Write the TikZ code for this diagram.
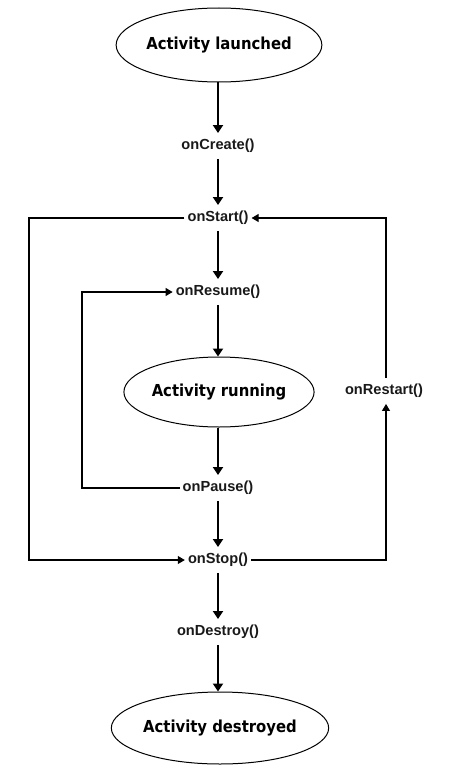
\documentclass[tikz,border=0pt]{standalone}
\usepackage{fontspec}
\setmainfont{Liberation Sans}
\newfontfamily\handfont{DejaVu Sans Condensed}
\usetikzlibrary{arrows.meta,shapes.geometric}
\tikzset{
  lbl/.style={font=\bfseries\fontsize{14.6}{16}\selectfont, text=black!90, inner xsep=3pt, inner ysep=6pt, text height=10.5pt, text depth=3pt},
  state/.style={draw, ellipse, line width=1pt, inner sep=0pt, font=\handfont\bfseries\fontsize{16.5}{19}\selectfont},
  flow/.style={line width=1.8pt, -{Triangle[width=10pt,length=8pt]}},
  loopline/.style={line width=1.1pt, -{Triangle[width=8pt,length=7pt]}}
}
\begin{document}
\begin{tikzpicture}[x=1pt,y=-1pt]
\useasboundingbox (0,0) rectangle (454,781);
\node[state, minimum width=180pt, minimum height=74pt] (launched) at (219,45) {Activity launched};
\node[lbl] (create) at (218,146) {onCreate()};
\node[lbl] (start) at (218,218) {onStart()};
\node[lbl] (resume) at (218,292) {onResume()};
\node[state, minimum width=178pt, minimum height=70pt] (running) at (219,392) {Activity running};
\node[lbl] (restart) at (384,391) {onRestart()};
\node[lbl] (pause) at (218,488) {onPause()};
\node[lbl] (stop) at (218,560) {onStop()};
\node[lbl] (destroy) at (218,632) {onDestroy()};
\node[state, minimum width=176pt, minimum height=72pt] (destroyed) at (220,728) {Activity destroyed};
\coordinate (lt) at (29,218);
\coordinate (lb) at (29,560);
\coordinate (pl) at (82,488);
\coordinate (pt) at (82,292);
\coordinate (rb) at (386,560);
\coordinate (rt) at (386,218);

\draw[flow] (launched.south -| create) -- (create.north);
\draw[flow] (create) -- (start);
\draw[flow] (start) -- (resume);
\draw[flow] (resume.south) -- (running.north -| resume);
\draw[flow] (running.south -| pause) -- (pause.north);
\draw[flow] (pause) -- (stop);
\draw[flow] (stop) -- (destroy);
\draw[flow] (destroy.south) -- (destroyed.north -| destroy);

\draw[loopline] (start.west) -- (lt) -- (lb) -- (stop.west);
\draw[loopline] (pause.west) -- (pl) -- (pt) -- (resume.west);
\draw[loopline] (stop.east) -- (rb) -- (rb |- restart.south);
\draw[loopline] (rt |- restart.north) -- (rt) -- (start.east);
\end{tikzpicture}
\end{document}
